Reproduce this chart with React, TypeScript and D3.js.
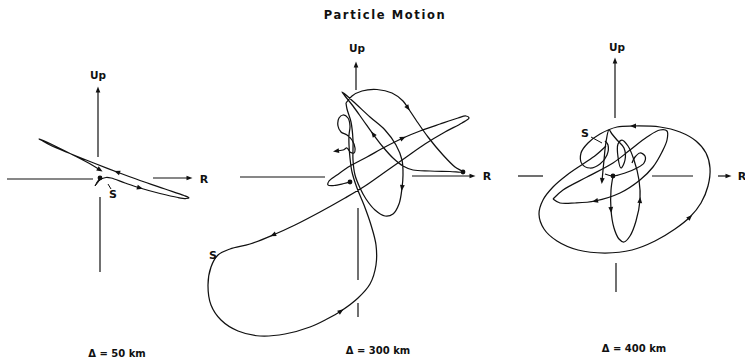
import React from "react";
import * as d3 from "d3";

type Pt = [number, number];

const chartTitle = "Particle Motion";
const distanceLabels = ["Δ = 50 km", "Δ = 300 km", "Δ = 400 km"];
const upLabel = "Up";
const radialLabel = "R";
const shearLabel = "S";

// Ground-motion traces as [radial, vertical] displacement (plot units, up positive)
const trace50: Pt[] = [
  [2, -1], [7, 0.5], [12, 0], [26, -5], [41, -10], [61, -15.5], [79, -19.5], [87, -20.5],
  [90, -20], [85, -17.5], [66, -11], [41, -2.5], [18, 6], [-4, 14.5], [-29, 24.5], [-49, 33],
  [-58, 38], [-60, 39], [-57, 38], [-44, 32], [-24, 22], [-7, 13], [1, 8],
];
const trace50Onset: Pt[] = [[1, 0], [-2, -4], [-4, -8], [0, -3], [2, -1]];
const arrows50 = [4, 12, 22];

const trace300Long: Pt[] = [
  [-7, -5], [-13, -6.5], [-23, -8.5], [-29, -8], [-28, -4], [-20, 2], [-7, 11], [10, 20],
  [28, 30], [46, 39], [63, 46], [83, 53], [101, 59], [109, 61], [112, 59], [105, 54],
  [88, 45], [68, 33], [48, 19], [28, 5], [8, -9], [-12, -21], [-37, -35], [-62, -48],
  [-84, -58], [-107, -67], [-127, -72], [-139, -78], [-146, -90], [-149, -108], [-146, -128],
  [-136, -143], [-119, -154], [-97, -159], [-72, -157], [-47, -150], [-30, -142], [-16, -134],
  [1, -121], [13, -107], [19, -88], [19, -68], [14, -48], [7, -28], [0, -11], [-5, 5],
  [-7, 19], [-8, 32], [-8, 42], [-7, 51], [-9, 59], [-14, 62], [-18, 59], [-19, 51],
  [-16, 45], [-10, 42], [-5, 37], [-2, 29], [-3, 24], [-7, 25], [-10, 29], [-14, 27], [-21, 26],
];
const arrows300Long = [9, 24, 37, 62];

const trace300Cap: Pt[] = [
  [-11, 74], [-5, 81], [5, 86], [20, 87.5], [35, 84], [46, 76], [51, 69], [59, 57],
  [71, 40], [86, 22], [98, 10], [106, 5], [93, 5.5], [73, 6], [56, 7], [46, 11],
  [36, 19], [26, 30], [16, 43], [6, 57], [-4, 71], [-12, 81], [-15, 85], [-11, 82],
  [-1, 73], [13, 60], [28, 47], [39, 32], [45, 17], [46, 2], [45, -11], [42, -27],
  [36, -37], [28, -39], [18, -33], [9, -22], [3, -11], [-2, 2], [-4, 17], [-4, 37],
  [-6, 55], [-10, 68], [-11, 74],
];
const arrows300Cap = [6, 18, 30];

const trace400Outer: Pt[] = [
  [-9, 30], [-19, 21], [-32, 12], [-48, 1], [-62, -11], [-72, -24], [-76, -38], [-71, -53],
  [-58, -65], [-37, -74], [-10, -77], [17, -74], [40, -65], [60, -53], [75, -41], [86, -27],
  [93, -10], [95, 8], [91, 23], [81, 35], [65, 44], [45, 49], [18, 50], [2, 49],
  [-15, 42], [-27, 33], [-34, 23], [-33, 12], [-25, 8], [-15, 12], [-8, 21], [-7, 31], [-10, 35],
];
const arrows400Outer = [14, 22];

const trace400Ellipse: Pt[] = [
  [-62, -23], [-52, -14], [-28, -1], [-2, 13], [15, 26], [32, 39], [45, 46], [52, 45],
  [52, 36], [47, 24], [38, 9], [25, -4], [5, -17], [-20, -25], [-40, -27], [-55, -27], [-62, -23],
];
const arrows400Ellipse = [13];

const trace400Loop: Pt[] = [
  [-2, 0], [-4, -14], [-4, -34], [-1, -52], [4, -63], [9, -66], [15, -60], [21, -45],
  [25, -24], [24, -4], [19, 16], [13, 30], [7, 36], [3, 32], [3, 19], [6, 8],
  [10, 16], [9, 28], [2, 36], [-3, 42], [-6, 46], [-9, 34], [-11, 16], [-13, -5],
];
const arrows400Loop = [2, 8, 23];

const trace400Hook: Pt[] = [
  [-10, 2], [-2, 0], [10, 3], [22, 8], [29, 13], [30, 20], [25, 23], [20, 19], [17, 13],
];

// Page layout: origin of each panel and the extent of its axis strokes (plot units)
const panels = [
  {
    cx: 99, cy: 178,
    up: [21, 91], left: [-92, -6, -1], right: [54, 93, 0], down: [[-19, -94]], downR: 1,
    upLabelAt: [-1, 103], rAt: [105, -1], sAt: [14, -16], sLead: [[9, -6], [12, -11]],
    distAt: [18, -175], upR: -1,
    traces: [
      { pts: trace50, arrows: arrows50 },
    ],
    fills: [trace50Onset],
    dots: [[1, 0] as Pt],
  },
  {
    cx: 357, cy: 177,
    up: [87, 115], left: [-117, -32, 0], right: [55, 118, 1], down: [[-31, -103], [-126, -140]], downR: 1,
    upLabelAt: [0, 129], rAt: [130, 1], sAt: [-144, -78], sLead: null,
    distAt: [21, -173], upR: -1,
    traces: [
      { pts: trace300Long, arrows: arrows300Long },
      { pts: trace300Cap, arrows: arrows300Cap },
    ],
    fills: [],
    dots: [[-7, -5] as Pt, [106, 5] as Pt],
  },
  {
    cx: 615, cy: 176,
    up: [58, 118], left: [-97, -72, 0], right: [103, 116, 0], extra: [37, 78], down: [[-87, -116]], downR: 1,
    upLabelAt: [2, 129], rAt: [127, 0], sAt: [-30, 43], sLead: [[-24, 39], [-13, 33]],
    distAt: [19, -172], upR: 0,
    traces: [
      { pts: trace400Outer, arrows: arrows400Outer },
      { pts: trace400Ellipse, arrows: arrows400Ellipse },
      { pts: trace400Loop, arrows: arrows400Loop },
      { pts: trace400Hook, arrows: [] as number[] },
    ],
    fills: [],
    dots: [[-2, 0] as Pt],
  },
];

const INK = "#111";
const FONT = "'DejaVu Sans', 'Liberation Sans', sans-serif";

function headPath(px: number, py: number, ux: number, uy: number, len: number, half: number) {
  const nx = -uy, ny = ux;
  const tx = px + ux * len * 0.5, ty = py + uy * len * 0.5;
  const bx = px - ux * len * 0.5, by = py - uy * len * 0.5;
  return `M${tx},${ty}L${bx + nx * half},${by + ny * half}L${bx - nx * half},${by - ny * half}Z`;
}

function Panel({ p, label }: { p: any; label: string }) {
  const x = d3.scaleLinear().domain([-200, 200]).range([p.cx - 200, p.cx + 200]);
  const y = d3.scaleLinear().domain([-200, 200]).range([p.cy + 200, p.cy - 200]);
  const line = d3
    .line<Pt>()
    .x((d) => x(d[0]))
    .y((d) => y(d[1]))
    .curve(d3.curveCatmullRom.alpha(0.5));
  const closed = d3
    .line<Pt>()
    .x((d) => x(d[0]))
    .y((d) => y(d[1]))
    .curve(d3.curveLinearClosed);

  const heads: string[] = [];
  p.traces.forEach((t: any) => {
    t.arrows.forEach((i: number) => {
      const pts: Pt[] = t.pts;
      const a = pts[Math.max(0, i - 1)];
      const b = pts[Math.min(pts.length - 1, i + 1)];
      const dx = x(b[0]) - x(a[0]);
      const dy = y(b[1]) - y(a[1]);
      const L = Math.hypot(dx, dy) || 1;
      heads.push(headPath(x(pts[i][0]), y(pts[i][1]), dx / L, dy / L, 6, 2.4));
    });
  });

  const upX = x(p.upR);
  const upTop = y(p.up[1]);
  const rEnd = x(p.right[1]);
  const rY = y(p.right[2]);

  return (
    <g>
      {/* axes */}
      <line x1={upX} x2={upX} y1={y(p.up[0])} y2={upTop + 3} stroke={INK} strokeWidth={1.2} />
      <path d={headPath(upX, upTop + 2.5, 0, -1, 6, 2.3)} fill={INK} />
      <line x1={x(p.left[0])} x2={x(p.left[1])} y1={y(p.left[2])} y2={y(p.left[2])} stroke={INK} strokeWidth={1.2} />
      <line x1={x(p.right[0])} x2={rEnd - 3} y1={rY} y2={rY} stroke={INK} strokeWidth={1.2} />
      <path d={headPath(rEnd - 2.5, rY, 1, 0, 6, 2.3)} fill={INK} />
      {p.extra && (
        <line x1={x(p.extra[0])} x2={x(p.extra[1])} y1={y(0)} y2={y(0)} stroke={INK} strokeWidth={1.2} />
      )}
      {p.down.map((s: number[], k: number) => (
        <line key={k} x1={x(p.downR)} x2={x(p.downR)} y1={y(s[0])} y2={y(s[1])} stroke={INK} strokeWidth={1.2} />
      ))}

      {/* traces */}
      {p.traces.map((t: any, k: number) => (
        <path key={k} d={line(t.pts) || ""} fill="none" stroke={INK} strokeWidth={1.25} strokeLinejoin="round" />
      ))}
      {p.fills.map((f: Pt[], k: number) => (
        <path key={k} d={closed(f) || ""} fill={INK} stroke={INK} strokeWidth={1} />
      ))}
      {heads.map((d, k) => (
        <path key={k} d={d} fill={INK} />
      ))}
      {p.dots.map((d: Pt, k: number) => (
        <circle key={k} cx={x(d[0])} cy={y(d[1])} r={2.4} fill={INK} />
      ))}

      {/* labels */}
      <text x={x(p.upLabelAt[0])} y={y(p.upLabelAt[1])} textAnchor="middle" dominantBaseline="central"
        fontFamily={FONT} fontWeight="bold" fontSize={10.5} fill={INK}>{upLabel}</text>
      <text x={x(p.rAt[0])} y={y(p.rAt[1])} textAnchor="middle" dominantBaseline="central"
        fontFamily={FONT} fontWeight="bold" fontSize={11} fill={INK}>{radialLabel}</text>
      <text x={x(p.sAt[0])} y={y(p.sAt[1])} textAnchor="middle" dominantBaseline="central"
        fontFamily={FONT} fontWeight="bold" fontSize={11} fill={INK}>{shearLabel}</text>
      {p.sLead && (
        <line x1={x(p.sLead[0][0])} y1={y(p.sLead[0][1])} x2={x(p.sLead[1][0])} y2={y(p.sLead[1][1])}
          stroke={INK} strokeWidth={1} />
      )}
      <text x={x(p.distAt[0])} y={y(p.distAt[1])} textAnchor="middle" dominantBaseline="central"
        fontFamily={FONT} fontWeight="bold" fontSize={10} fill={INK}>{label}</text>
    </g>
  );
}

export default function App() {
  return (
    <svg
      width={745}
      height={363}
      viewBox="0 0 745 363"
      style={{ position: "absolute", left: 0, top: 0, background: "#fff" }}
    >
      <rect width={745} height={363} fill="#fff" />
      <text x={385} y={15} textAnchor="middle" dominantBaseline="central" fontFamily={FONT}
        fontWeight="bold" fontSize={11.5} letterSpacing={1.6} fill={INK}>{chartTitle}</text>
      {panels.map((p, i) => (
        <Panel key={i} p={p} label={distanceLabels[i]} />
      ))}
    </svg>
  );
}
